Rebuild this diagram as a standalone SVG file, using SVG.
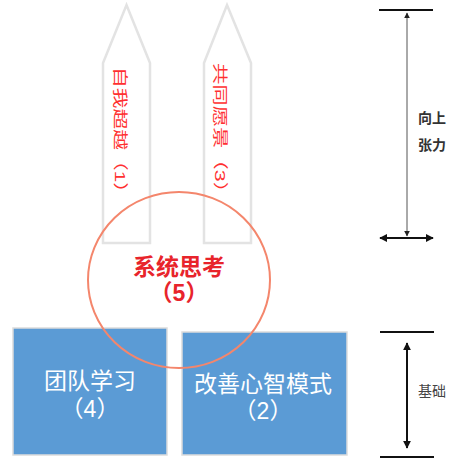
<svg xmlns="http://www.w3.org/2000/svg" width="456" height="459" viewBox="0 0 456 459">
<defs>
<marker id="ah" viewBox="0 0 10 10" refX="9" refY="5" markerWidth="4" markerHeight="4" orient="auto-start-reverse" markerUnits="strokeWidth"><path d="M0,0 L10,5 L0,10 z" fill="#111"/></marker>
<marker id="ahs" viewBox="0 0 10 10" refX="9" refY="5" markerWidth="6" markerHeight="6" orient="auto-start-reverse" markerUnits="strokeWidth"><path d="M0,0 L10,5 L0,10 z" fill="#222"/></marker>
<style>
.arrow{fill:#fff;stroke:#e3e3e3;stroke-width:2.5}
.box{fill:#5b9bd5;stroke:#dcdcdc;stroke-width:1.5}
.vt{font-family:"Liberation Sans","Noto Sans CJK SC",sans-serif;font-size:22px;fill:#ff3030}
.bt{font-family:"Liberation Sans","Noto Sans CJK SC",sans-serif;font-size:23px;fill:#ffffff;text-anchor:middle}
.rt{font-family:"Liberation Sans","Noto Sans CJK SC",sans-serif;font-size:23px;fill:#e8242b;font-weight:bold;text-anchor:middle}
.side{font-family:"Liberation Sans","Noto Sans CJK SC",sans-serif;font-size:14px;fill:#333;font-weight:bold}
.bar{stroke:#111;stroke-width:2.2}
</style>
</defs>
<g id="arrow-1">
<polygon class="arrow" points="126.5,5 150,63 150,243 103,243 103,63"/>
<text class="vt" transform="translate(115,67) rotate(90) scale(1,0.68)" textLength="136" lengthAdjust="spacingAndGlyphs">自我超越（1）</text>
</g>
<g id="arrow-3">
<polygon class="arrow" points="227,5 251,63 251,243 204,243 204,63"/>
<text class="vt" transform="translate(215,63) rotate(90) scale(1,0.68)" textLength="140" lengthAdjust="spacingAndGlyphs">共同愿景（3）</text>
</g>
<g id="box-4">
<rect class="box" x="13" y="328" width="154" height="127"/>
<text class="bt" x="90" y="389">团队学习</text>
<text class="bt" x="90" y="417">（4）</text>
</g>
<g id="box-2">
<rect class="box" x="182" y="332" width="165" height="123"/>
<text class="bt" x="263" y="392">改善心智模式</text>
<text class="bt" x="263" y="419">（2）</text>
</g>
<g id="circle-5">
<ellipse cx="179" cy="280" rx="91" ry="88" fill="none" stroke="#f4866c" stroke-width="2"/>
<text class="rt" x="179" y="275">系统思考</text>
<text class="rt" x="179" y="301">（5）</text>
</g>
<g id="connectors">
<line class="bar" x1="379" y1="10" x2="433" y2="10"/>
<line x1="407" y1="236" x2="407" y2="13" stroke="#555" stroke-width="1" marker-start="url(#ahs)" marker-end="url(#ahs)"/>
<line x1="380" y1="238" x2="433" y2="238" stroke="#111" stroke-width="2" marker-start="url(#ah)" marker-end="url(#ah)"/>
<line class="bar" x1="380" y1="332" x2="434" y2="332"/>
<line x1="407" y1="343" x2="407" y2="448" stroke="#111" stroke-width="2" marker-start="url(#ah)" marker-end="url(#ah)"/>
<line class="bar" x1="380" y1="457" x2="434" y2="457"/>
</g>
<g id="labels">
<text class="side" x="418" y="123">向上</text>
<text class="side" x="418" y="150">张力</text>
<text class="side" x="418" y="396" style="font-weight:normal;fill:#444">基础</text>
</g>
</svg>
